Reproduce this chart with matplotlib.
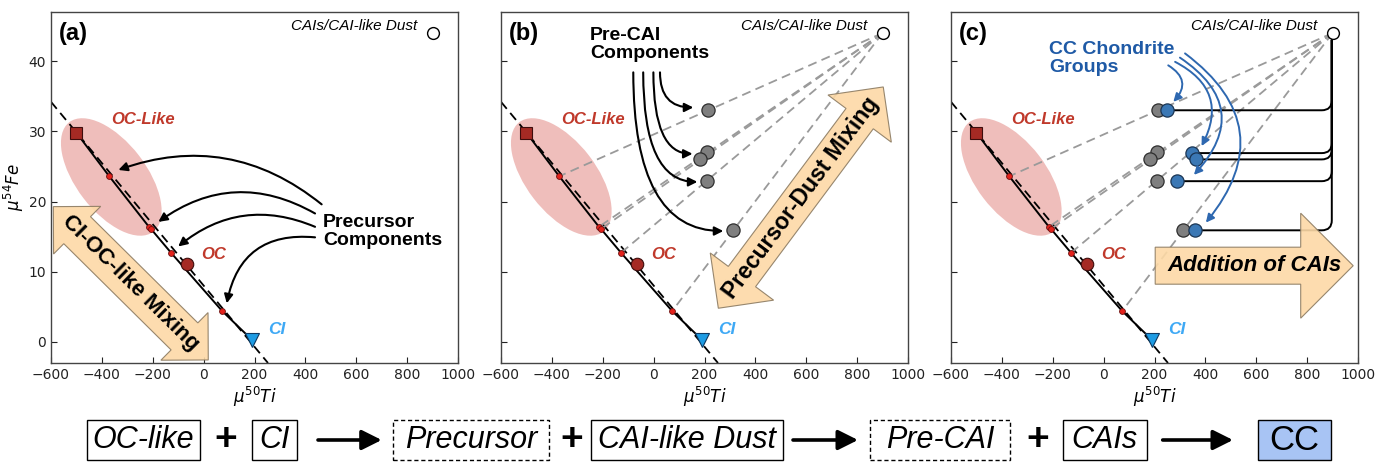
import numpy as np
import matplotlib
matplotlib.use("Agg")
from matplotlib import pyplot as plt
from matplotlib.patches import Ellipse, Polygon, Rectangle, FancyArrowPatch
from matplotlib.transforms import Affine2D, ScaledTranslation

# 데이터
oc_like_x, oc_like_y = -500, 29.8
oc_x, oc_y = -65, 11.1
ci_x, ci_y = 190, 0.3
cai_x, cai_y = 900, 44.0

# 혼합선 위의 전구체 성분 (빨간 점)
prec_x = [-371, -215, -207, -128, 73]
prec_y = [23.6, 16.4, 16.1, 12.7, 4.4]

# Pre-CAI 성분 (회색 점)
pre_x = [212, 210, 183, 210, 313]
pre_y = [33.1, 27.0, 26.0, 22.9, 16.0]

# CC 콘드라이트 그룹 (파란 점)
cc_x = [250, 346, 363, 287, 359]
cc_y = [33.0, 26.9, 26.0, 22.9, 15.9]

# 기준 점선
ref_x = [-600, 253]
ref_y = [34.2, -3.0]

x_ticks = [-600, -400, -200, 0, 200, 400, 600, 800, 1000]
y_ticks = [0, 10, 20, 30, 40]

flow_labels = ['OC-like', 'CI', 'Precursor', 'CAI-like Dust', 'Pre-CAI', 'CAIs', 'CC']

ANN = 'Liberation Sans'
RED = '#c0392b'
AX_W, AX_H = 407.0, 351.0

fig = plt.figure(figsize=(13.85, 4.62), dpi=100)
lefts = [51, 501, 951]
axs = [fig.add_axes([l / 1385, 0.2143, 407 / 1385, 351 / 462]) for l in lefts]


def block_arrow(ax, cx, cy, length, body_w, head_w, angle, double, text, fs, style='normal'):
    hl = head_w / 2
    L = length / 2
    bw, hw = body_w / 2, head_w / 2
    if double:
        pts = [(-L, 0), (-L + hl, hw), (-L + hl, bw), (L - hl, bw), (L - hl, hw), (L, 0),
               (L - hl, -hw), (L - hl, -bw), (-L + hl, -bw), (-L + hl, -hw)]
    else:
        pts = [(-L, bw), (L - hl, bw), (L - hl, hw), (L, 0), (L - hl, -hw), (L - hl, -bw), (-L, -bw)]
    tr = Affine2D().rotate_deg(angle).translate(cx, cy).scale(1 / AX_W, 1 / AX_H) + ax.transAxes
    ax.add_patch(Polygon(pts, closed=True, transform=tr, facecolor='#fdd9a6', edgecolor='#8c7b62',
                         lw=0.8, alpha=0.9, zorder=6, clip_on=False))
    ax.text(cx / AX_W, cy / AX_H, text, transform=ax.transAxes, rotation=angle, rotation_mode='anchor',
            ha='center', va='center', fontsize=fs, fontweight='bold', style=style, family=ANN, zorder=7)


def base_panel(ax, tag):
    ax.set_xlim(-600, 1000)
    ax.set_ylim(-3, 47)
    ax.set_xticks(x_ticks)
    ax.set_yticks(y_ticks)
    ax.tick_params(direction='in', length=4, labelsize=10, colors='#222222')
    for s in ax.spines.values():
        s.set_color('#444444')
        s.set_linewidth(1.0)
    ax.set_xlabel(r'$\mu^{50}Ti$', fontsize=12, labelpad=2)

    # 타원 (OC-like 영역)
    ell = Ellipse((0, 0), 1.38, 0.70, angle=-52.5, facecolor='#dc6f6a', alpha=0.45, lw=0,
                  transform=fig.dpi_scale_trans + ScaledTranslation(-363, 23.5, ax.transData), zorder=1)
    ax.add_patch(ell)

    ax.plot(ref_x, ref_y, color='black', ls=(0, (5, 3)), lw=1.3, zorder=2)
    ax.plot([oc_like_x] + prec_x + [ci_x], [oc_like_y] + prec_y + [ci_y], color='black', lw=1.4, zorder=2)

    ax.plot(oc_like_x, oc_like_y, 's', ms=8.8, mfc='#a52a24', mec='#3d0c0c', mew=0.8, zorder=4)
    ax.plot(oc_x, oc_y, 'o', ms=9, mfc='#a52a24', mec='#3d0c0c', mew=0.8, zorder=4)
    ax.plot(ci_x, ci_y, 'v', ms=9.8, mfc='#1d9be3', mec='#0d3a63', mew=0.8, zorder=4)
    ax.plot(prec_x, prec_y, 'o', ms=4.2, mfc='#e3221b', mec='#6b0d0d', mew=0.6, zorder=4)
    ax.plot(cai_x, cai_y, 'o', ms=8.5, mfc='white', mec='black', mew=1.0, zorder=5)

    ax.text(-362, 31.7, 'OC-Like', color=RED, fontsize=12, fontweight='bold', style='italic',
            family=ANN, va='center')
    ax.text(-8, 12.4, 'OC', color=RED, fontsize=12, fontweight='bold', style='italic', family=ANN, va='center')
    ax.text(254, 1.7, 'CI', color='#3fa9f5', fontsize=12.5, fontweight='bold', style='italic',
            family=ANN, va='center')
    ax.text(840, 45.0, 'CAIs/CAI-like Dust', fontsize=11, style='italic', family=ANN, ha='right', va='center')
    ax.text(0.02, 0.94, tag, transform=ax.transAxes, fontsize=17, fontweight='bold', family=ANN,
            va='center')


def mixing_lines(ax):
    for px, py in zip(prec_x, prec_y):
        ax.plot([cai_x, px], [cai_y, py], color='#9a9a9a', ls=(0, (5, 3)), lw=1.3, zorder=2)
    ax.plot(pre_x, pre_y, 'o', ms=9.5, mfc='#7f7f7f', mec='#2e2e2e', mew=0.9, zorder=4)


for ax, tag in zip(axs, ['(a)', '(b)', '(c)']):
    base_panel(ax, tag)

# (a)
ax = axs[0]
ax.set_ylabel(r'$\mu^{54}Fe$', fontsize=12, labelpad=2)
ax.text(469, 15.7, 'Precursor\nComponents', fontsize=14, fontweight='bold', family=ANN,
        va='center', ha='left', linespacing=1.1)
a_starts = [(464, 19.6), (438, 18.3), (438, 16.4), (438, 14.9)]
a_ends = [(-335, 24.5), (-178, 17.1), (-100, 13.6), (91, 5.5)]
a_rads = [0.28, 0.32, 0.3, 0.45]
for st, en, r in zip(a_starts, a_ends, a_rads):
    ax.annotate('', xy=en, xytext=st, zorder=5,
                arrowprops=dict(arrowstyle='-|>', color='black', lw=1.5, mutation_scale=13,
                                connectionstyle='arc3,rad=%s' % r, shrinkA=0, shrinkB=0))
block_arrow(ax, 79.8, 79.7, 218, 38, 67, -44.7, True, 'CI-OC-like Mixing', 16)

# (b)
ax = axs[1]
ax.tick_params(labelleft=False)
mixing_lines(ax)
ax.text(-250, 42.4, 'Pre-CAI\nComponents', fontsize=14, fontweight='bold', family=ANN,
        va='center', ha='left', linespacing=1.1)
b_starts = [(25, 38.4), (-1, 38.4), (-41, 38.4), (-80, 38.4)]
b_ends = [(156, 33.4), (153, 26.8), (172, 22.8), (274, 15.8)]
for st, en in zip(b_starts, b_ends):
    ax.annotate('', xy=en, xytext=st, zorder=5,
                arrowprops=dict(arrowstyle='-|>', color='black', lw=1.5, mutation_scale=13,
                                connectionstyle='angle3,angleA=90,angleB=0', shrinkA=0, shrinkB=0))
block_arrow(ax, 299.8, 165.4, 276, 34, 79, 53.3, True, 'Precursor-Dust Mixing', 16.5)

# (c)
ax = axs[2]
ax.tick_params(labelleft=False)
mixing_lines(ax)
for bx, by in zip(cc_x, cc_y):
    ax.annotate('', xy=(cai_x - 3, cai_y - 1.0), xytext=(bx, by), zorder=3,
                arrowprops=dict(arrowstyle='-', color='black', lw=1.4,
                                connectionstyle='angle,angleA=0,angleB=90,rad=10', shrinkA=0, shrinkB=0))
ax.plot(cc_x, cc_y, 'o', ms=9.5, mfc='#3b78b5', mec='#1b3553', mew=0.9, zorder=5)
ax.text(-213, 40.4, 'CC Chondrite\nGroups', fontsize=14, fontweight='bold', family=ANN, color='#1f5aa6',
        va='center', ha='left', linespacing=1.1)
c_starts = [(254, 39.4), (281, 39.9), (300, 40.5), (320, 41.1)]
c_ends = [(274, 34.2), (385, 27.9), (355, 23.8), (402, 17.0)]
c_rads = [-0.6, -0.5, -0.58, -0.52]
for st, en, r in zip(c_starts, c_ends, c_rads):
    ax.annotate('', xy=en, xytext=st, zorder=6,
                arrowprops=dict(arrowstyle='-|>', color='#2e68b0', lw=1.4, mutation_scale=12,
                                connectionstyle='arc3,rad=%s' % r, shrinkA=0, shrinkB=0))
block_arrow(ax, 303.2, 97.3, 198, 37, 105, 0, False, 'Addition of CAIs', 16, style='italic')

# 아래쪽 흐름도
W, H = 1385.0, 462.0
yc = 1 - 440 / H
boxes = [(86.7, 200), (251.7, 297.3), (393.3, 549.3), (590.7, 782.7), (870, 1010), (1062.7, 1146.7),
         (1258, 1330.6)]
dashed = [False, False, True, False, True, False, False]
for (x0, x1), lab, d in zip(boxes, flow_labels, dashed):
    fc = '#a8c4f4' if lab == 'CC' else 'none'
    fig.add_artist(Rectangle((x0 / W, 1 - 460 / H), (x1 - x0) / W, 40 / H, transform=fig.transFigure,
                             facecolor=fc, edgecolor='black', lw=1.0, ls=(0, (3, 2)) if d else '-'))
    fs = 25 if lab == 'CC' else 22
    st = 'normal' if lab == 'CC' else 'italic'
    fig.text((x0 + x1) / 2 / W, yc, lab, ha='center', va='center', fontsize=fs, style=st, family=ANN)

for px in [225.7, 571.7, 1038]:
    fig.text(px / W, yc, '+', ha='center', va='center', fontsize=28, fontweight='bold', family=ANN)

for x0, x1 in [(318, 381.7), (793, 858), (1162.7, 1233)]:
    fig.add_artist(FancyArrowPatch((x0 / W, yc), (x1 / W, yc), transform=fig.transFigure,
                                   arrowstyle='-|>,head_length=0.6,head_width=0.3', mutation_scale=20,
                                   lw=2.6, color='black', shrinkA=0, shrinkB=0))

plt.savefig('out.png', dpi=100)
